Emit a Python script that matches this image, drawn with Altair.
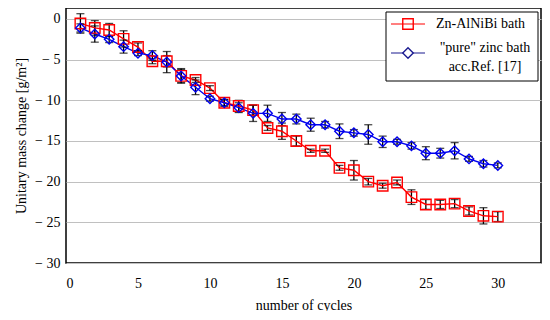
import altair as alt
import pandas as pd

cycles = list(range(1, 31))
zn_alnibi = [-0.55, -1.1, -1.35, -2.45, -3.45, -5.2, -5.2, -7.0, -7.5, -8.5,
             -10.3, -10.7, -11.2, -13.4, -13.8, -15.0, -16.2, -16.2, -18.3, -18.6,
             -20.0, -20.5, -20.1, -21.9, -22.8, -22.8, -22.7, -23.6, -24.2, -24.3]
zn_alnibi_err = [1.2, 0.9, 0.8, 1.0, 0.5, 0.3, 0.7, 0.9, 0.3, 0.3,
                 0.4, 0.7, 0.6, 0.3, 1.0, 0.6, 0.2, 0.2, 0.3, 1.2,
                 0.4, 0.3, 0.3, 0.9, 0.6, 0.5, 0.5, 0.5, 1.0, 0.6]
pure_zinc = [-1.1, -1.85, -2.5, -3.4, -4.2, -4.5, -5.3, -7.0, -8.4, -9.8,
             -10.3, -10.9, -11.6, -11.6, -12.3, -12.3, -13.0, -13.0, -13.8, -14.0,
             -14.2, -15.1, -15.1, -15.6, -16.5, -16.5, -16.2, -17.2, -17.8, -18.0]
pure_zinc_err = [0.5, 1.0, 0.4, 0.8, 0.3, 0.6, 1.3, 0.8, 0.9, 0.3,
                 0.4, 0.6, 1.0, 1.0, 0.8, 0.6, 0.8, 0.4, 0.9, 0.4,
                 1.2, 0.7, 0.3, 0.4, 0.8, 0.6, 1.0, 0.3, 0.4, 0.3]
series_names = ["Zn-AlNiBi bath", "\"pure\" zinc bath acc.Ref. [17]"]
x_ticks = [0, 5, 10, 15, 20, 25, 30]
y_ticks = [-30, -25, -20, -15, -10, -5, 0]

RED = "#ff0000"
BLUE = "#0000ee"
NAVY = "#1a1a90"
FONT = "Times New Roman, Liberation Serif, DejaVu Serif, serif"

df = pd.concat([
    pd.DataFrame({"cycle": cycles, "value": zn_alnibi, "err": zn_alnibi_err, "series": series_names[0]}),
    pd.DataFrame({"cycle": cycles, "value": pure_zinc, "err": pure_zinc_err, "series": series_names[1]}),
])

xs = alt.Scale(domain=[0, 33], nice=False, zero=False)
ys = alt.Scale(domain=[-30, 1.35], nice=False, zero=False)

x_axis = alt.Axis(values=x_ticks, title="number of cycles", grid=False, ticks=False,
                  labelPadding=13, titlePadding=8, domain=False)
y_axis = alt.Axis(values=y_ticks, title="Unitary mass change [g/m²]", grid=True, ticks=False,
                  labelPadding=6, titlePadding=6, domain=False,
                  labelExpr="datum.value < 0 ? '\u2212 ' + abs(datum.value) : datum.label")

color = alt.Color("series:N", scale=alt.Scale(domain=series_names, range=[RED, BLUE]), legend=None)

base = alt.Chart(df)

err_df = base.transform_calculate(lo="datum.value - datum.err", hi="datum.value + datum.err")

err_rule = err_df.mark_rule(color="black", strokeWidth=1.3).encode(
    x=alt.X("cycle:Q", scale=xs, axis=x_axis),
    y=alt.Y("lo:Q", scale=ys, axis=y_axis),
    y2="hi:Q",
)
cap_lo = err_df.mark_tick(color="black", thickness=1.3, size=8, orient="horizontal").encode(
    x=alt.X("cycle:Q", scale=xs), y=alt.Y("lo:Q", scale=ys))
cap_hi = err_df.mark_tick(color="black", thickness=1.3, size=8, orient="horizontal").encode(
    x=alt.X("cycle:Q", scale=xs), y=alt.Y("hi:Q", scale=ys))

lines = base.mark_line(strokeWidth=1.4).encode(
    x=alt.X("cycle:Q", scale=xs), y=alt.Y("value:Q", scale=ys), color=color,
    detail="series:N")

points = base.mark_point(filled=False, strokeWidth=1.4, opacity=1).encode(
    x=alt.X("cycle:Q", scale=xs), y=alt.Y("value:Q", scale=ys), color=color,
    shape=alt.Shape("series:N", scale=alt.Scale(domain=series_names, range=["square", "diamond"]), legend=None),
    size=alt.Size("series:N", scale=alt.Scale(domain=series_names, range=[110, 90]), legend=None),
)

# manual legend (box, samples, labels)
one = pd.DataFrame({"a": [0]})
leg_box = alt.Chart(one).mark_rect(
    fill="white", stroke="black", strokeWidth=1).encode(
    x=alt.value(320), x2=alt.value(472), y=alt.value(4), y2=alt.value(73))
leg_line1 = alt.Chart(one).mark_rule(color=RED, strokeWidth=1.2).encode(
    x=alt.value(325), x2=alt.value(359), y=alt.value(16))
leg_pt1 = alt.Chart(one).mark_point(
    shape="square", filled=False, color=RED, size=110, strokeWidth=1.4, opacity=1).encode(
    x=alt.value(342), y=alt.value(16))
leg_txt1 = alt.Chart(pd.DataFrame({"t": [series_names[0]]})).mark_text(
    font=FONT, fontSize=14, align="left", baseline="middle", color="black").encode(
    x=alt.value(370), y=alt.value(16), text="t:N")
leg_line2 = alt.Chart(one).mark_rule(color=NAVY, strokeWidth=1.2).encode(
    x=alt.value(325), x2=alt.value(359), y=alt.value(45))
leg_pt2 = alt.Chart(one).mark_point(
    shape="diamond", filled=True, fill="white", stroke=NAVY, size=110, strokeWidth=1.4, opacity=1).encode(
    x=alt.value(342), y=alt.value(45))
leg_txt2 = alt.Chart(pd.DataFrame({"t": [["\"pure\" zinc bath", "acc.Ref. [17]"]]})).mark_text(
    font=FONT, fontSize=14, align="center", baseline="middle", color="black", lineHeight=19).encode(
    x=alt.value(419), y=alt.value(40), text="t")

chart = alt.layer(
    err_rule, lines, cap_lo, cap_hi, points,
    leg_box, leg_line1, leg_pt1, leg_txt1, leg_line2, leg_pt2, leg_txt2,
).properties(
    width=475, height=255,
    autosize=alt.AutoSizeParams(type="none"),
    padding={"left": 58, "top": 0, "right": 1, "bottom": 48},
).configure(
    font=FONT
).configure_view(
    stroke="black", strokeWidth=1.5
).configure_axis(
    labelFont=FONT, titleFont=FONT, labelFontSize=14, titleFontSize=14,
    labelColor="black", titleColor="black", titleFontWeight="normal",
    gridColor="#c0c0c0", gridWidth=1,
)

chart.save("out.html", embed_options={"renderer": "svg", "actions": False})
